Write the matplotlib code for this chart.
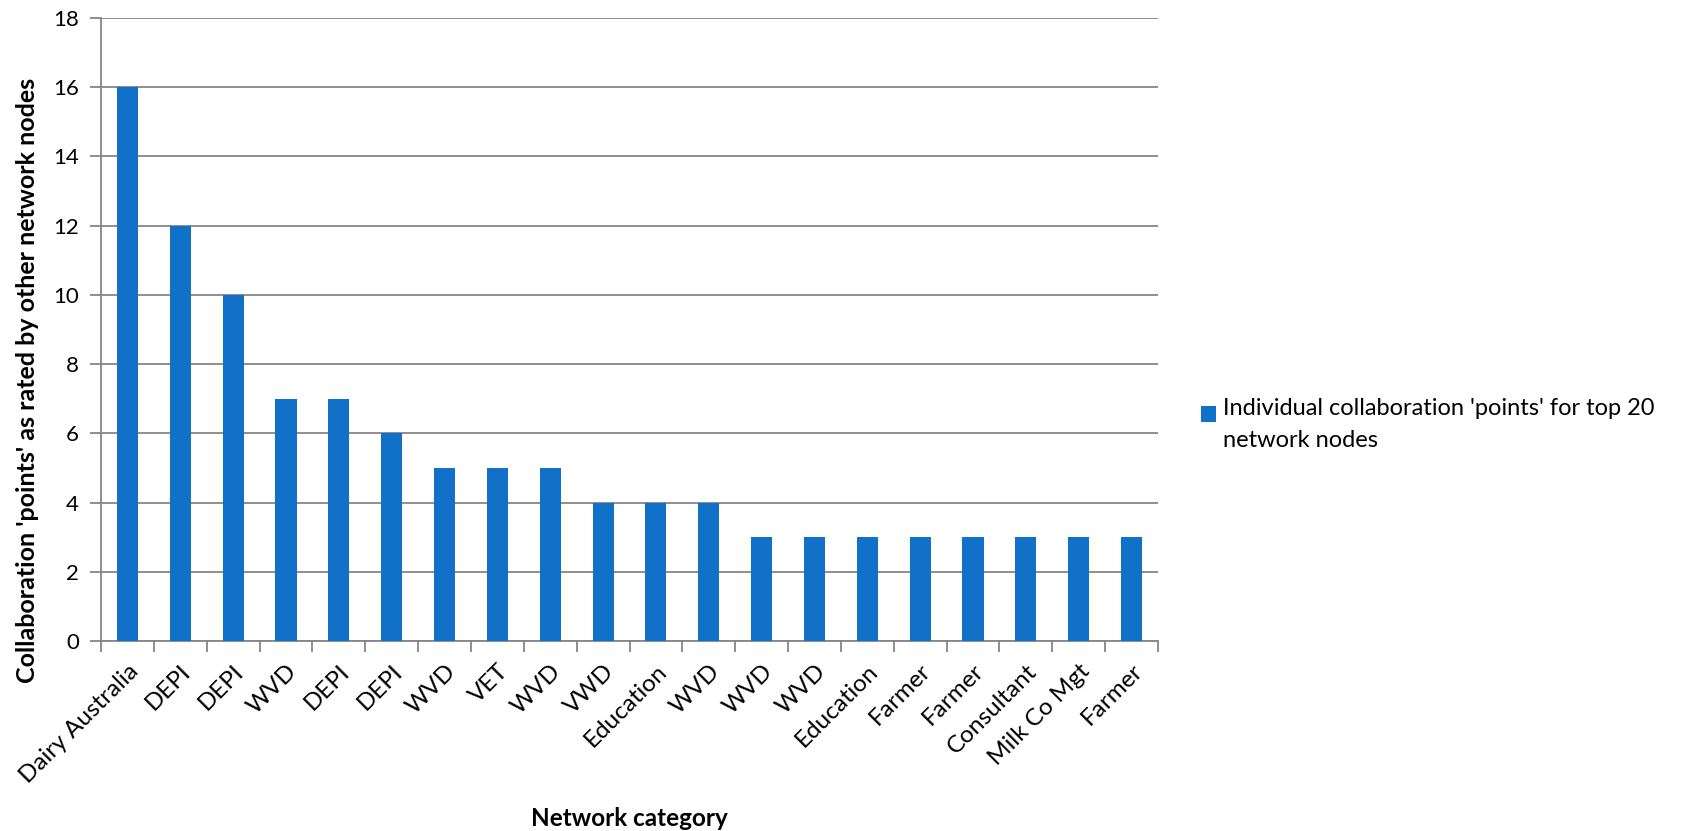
import matplotlib.pyplot as plt
import numpy as np
from matplotlib.legend_handler import HandlerPatch
from matplotlib.patches import Rectangle

plt.rcParams['font.family'] = ['Lato', 'DejaVu Sans']

categories = ['Dairy Australia', 'DEPI', 'DEPI', 'WVD', 'DEPI', 'DEPI', 'WVD', 'VET',
              'WVD', 'VWD', 'Education', 'WVD', 'WVD', 'WVD', 'Education', 'Farmer',
              'Farmer', 'Consultant', 'Milk Co Mgt', 'Farmer']
points = [16, 12, 10, 7, 7, 6, 5, 5, 5, 4, 4, 4, 3, 3, 3, 3, 3, 3, 3, 3]
series_name = "Individual collaboration 'points' for top 20\nnetwork nodes"

bar_color = '#1170C8'
grid_color = '#868686'

W, H = 1692, 831
fig = plt.figure(figsize=(W / 100, H / 100), dpi=100)
ax = fig.add_axes([101 / W, 1 - 641 / H, (1158 - 101) / W, (641 - 18) / H])

x = np.arange(len(categories))
bars = ax.bar(x, points, width=0.4, color=bar_color, zorder=3, label=series_name)

ax.set_xlim(-0.5, len(categories) - 0.5)
ax.set_ylim(0, 18)
ax.set_yticks(range(0, 19, 2))
ax.yaxis.grid(True, color=grid_color, linewidth=1.3, zorder=0)
ax.set_axisbelow(True)

# category ticks sit on the boundaries between bars
ax.set_xticks(np.arange(-0.5, len(categories), 1.0))
ax.set_xticklabels([])
ax.set_xticks(x, minor=True)
ax.set_xticklabels(categories, minor=True, rotation=45, ha='right',
                   rotation_mode='anchor', fontsize=17.5)
ax.tick_params(axis='x', which='minor', length=0, pad=14)
ax.tick_params(axis='x', which='major', length=8, width=1.3, color=grid_color)
ax.tick_params(axis='y', length=8, width=1.3, color=grid_color, labelsize=16, pad=8)

for side in ['top', 'right']:
    ax.spines[side].set_visible(False)
for side in ['left', 'bottom']:
    ax.spines[side].set_color(grid_color)
    ax.spines[side].set_linewidth(1.3)

fig.text(28 / W, 1 - 380 / H, "Collaboration 'points' as rated by other network nodes",
         fontsize=18, fontweight='bold', rotation=90, ha='center', va='center')
fig.text(629 / W, 1 - 818 / H, 'Network category', fontsize=17.5,
         fontweight='bold', ha='center', va='center')


# keep the legend swatch level with the first line of the two-line label
def top_line_swatch(legend, orig_handle, xdescent, ydescent, width, height, fontsize):
    return Rectangle((-xdescent, -ydescent + 7.5), width, height)


swatch = bars.patches[0]
fig.legend(handles=[swatch], labels=[series_name], loc='upper left',
           bbox_to_anchor=(1201 / W, 1 - 398 / H), frameon=False,
           prop={'size': 17}, handlelength=0.64, handleheight=0.68,
           handletextpad=0.3, borderaxespad=0, borderpad=0,
           handler_map={swatch: HandlerPatch(patch_func=top_line_swatch)})
for t in fig.legends[0].get_texts():
    t.set_linespacing(1.65)

fig.savefig('out.png', dpi=100)
